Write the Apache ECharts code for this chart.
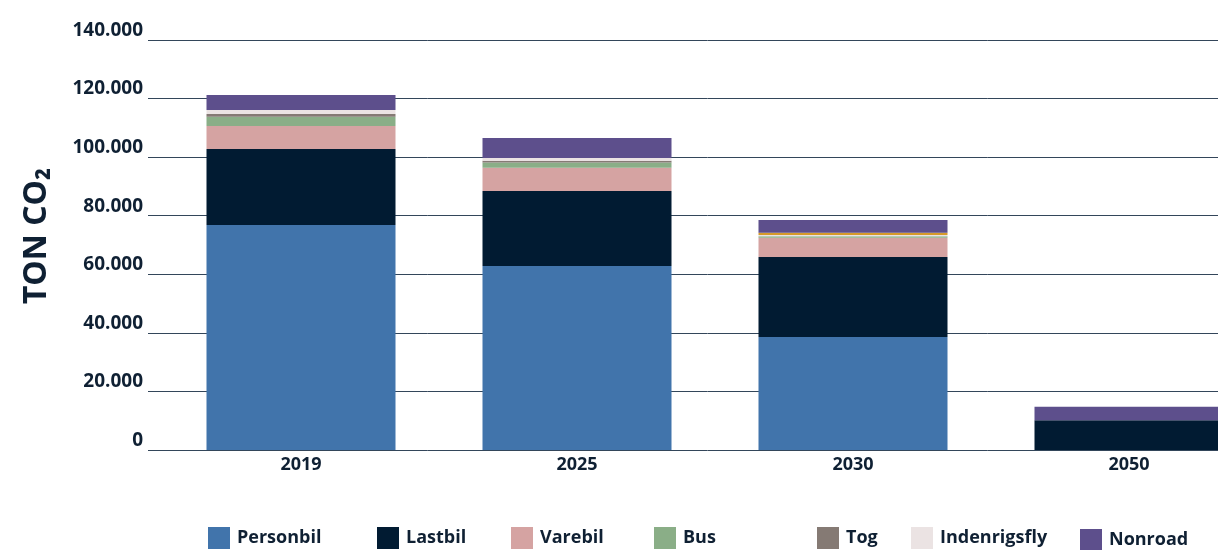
<!DOCTYPE html>
<html>
<head>
<meta charset="utf-8">
<script src="https://cdn.jsdelivr.net/npm/echarts@6/dist/echarts.min.js"></script>
<style>
  html, body { margin: 0; padding: 0; background: #fff; overflow: hidden; }
  /* chart is wider than the window: the last bar is cut by the right edge like in the original */
  #chart { width: 1267px; height: 550px; }
</style>
</head>
<body>
<div id="chart"></div>
<script>
// data (ton CO2)
var years = ['2019', '2025', '2030', '2050'];
var personbil    = [76800, 62800, 38600, 0];
var lastbil      = [26000, 25600, 27300, 10200];
var varebil      = [7800, 8000, 6600, 0];
var bus          = [3200, 1800, 450, 0];
var tog          = [900, 600, 0, 0];
var indenrigsfly = [1400, 900, 450, 0];
var oevrig       = [0, 0, 800, 0];
var nonroad      = [5100, 6800, 4300, 4550];

var font = 'Open Sans';
var ink = '#0f2033';

var chart = echarts.init(document.getElementById('chart'));

function bar(name, data, color) {
  return {
    name: name,
    type: 'bar',
    stack: 'total',
    xAxisIndex: 1,
    yAxisIndex: 1,
    barWidth: 189,
    itemStyle: { color: color },
    data: data
  };
}

//one legend per item so the gaps match
var legendItems = [
  ['Personbil', 208, 527],
  ['Lastbil', 377, 527],
  ['Varebil', 511, 527],
  ['Bus', 654, 527],
  ['Tog', 817, 527],
  ['Indenrigsfly', 911, 527],
  ['Nonroad', 1080, 529]
];
var legends = legendItems.map(function (it) {
  return {
    data: [{ name: it[0], icon: 'rect' }],
    left: it[1],
    top: it[2],
    padding: 0,
    itemWidth: 22,
    itemHeight: 22,
    itemGap: 0,
    selectedMode: false,
    textStyle: { fontFamily: font, fontWeight: 'bold', fontSize: 18, color: ink, padding: [2, 0, 0, 2] }
  };
});

var option = {
  animation: false,
  legend: legends,
  graphic: [{
    type: 'text',
    x: 37,
    y: 236,
    rotation: Math.PI / 2,
    style: {
      text: 'TON CO\u2082',
      fontFamily: font,
      fontWeight: 'bold',
      fontSize: 32,
      fill: ink,
      align: 'center',
      verticalAlign: 'middle'
    }
  }],
  grid: [
    { left: 148, right: 0, top: 40, bottom: 100 },
    { left: 163, right: 0, top: 40, bottom: 100 }
  ],
  xAxis: [
    { gridIndex: 0, type: 'category', data: years, show: false },
    {
      gridIndex: 1,
      type: 'category',
      data: years,
      axisLine: { show: false },
      axisTick: { show: false },
      axisLabel: { fontFamily: font, fontWeight: 'bold', fontSize: 18, color: ink, margin: 6 }
    }
  ],
  yAxis: [
    {
      gridIndex: 0,
      type: 'value',
      min: 0,
      max: 140000,
      interval: 20000,
      axisLine: { show: false },
      axisTick: { show: false },
      axisLabel: {
        fontFamily: font, fontWeight: 'bold', fontSize: 19, color: ink, margin: 5,
        verticalAlign: 'bottom',
        formatter: function (v) {
          return v === 0 ? '0' : (v / 1000) + '.000';
        }
      },
      splitLine: { lineStyle: { color: '#33465a', width: 1 } }
    },
    {
      gridIndex: 1,
      type: 'value',
      min: 0,
      max: 140000,
      interval: 20000,
      show: false
    }
  ],
  series: [
    bar('Personbil', personbil, '#4174ab'),
    bar('Lastbil', lastbil, '#011b32'),
    bar('Varebil', varebil, '#d5a3a2'),
    bar('Bus', bus, '#8aae87'),
    bar('Tog', tog, '#857a74'),
    bar('Indenrigsfly', indenrigsfly, '#ebe3e3'),
    bar('Øvrig', oevrig, '#d69a2a'),
    bar('Nonroad', nonroad, '#5d4f8c')
  ]
};

chart.setOption(option);
</script>
</body>
</html>
